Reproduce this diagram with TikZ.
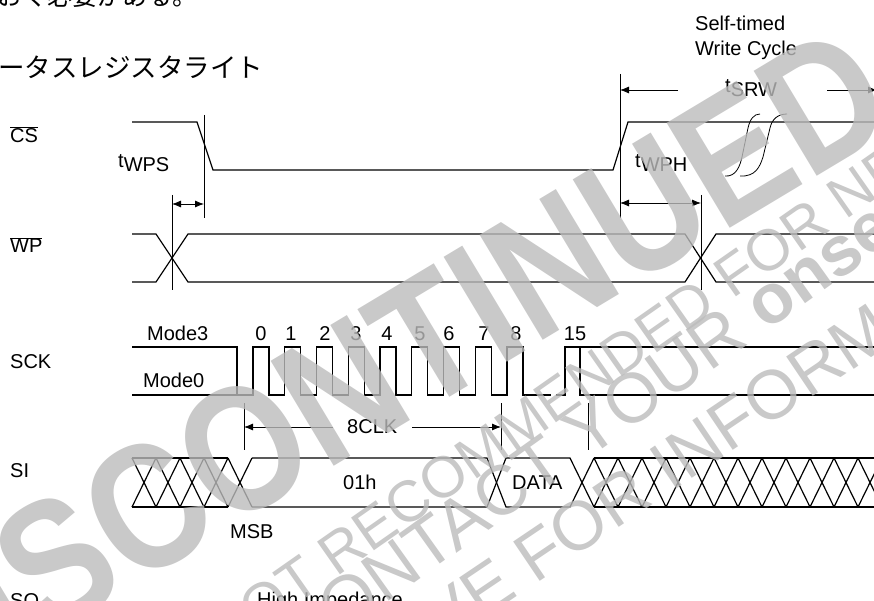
\documentclass[tikz,border=0pt]{standalone}
\usepackage{fontspec}
\setmainfont{Liberation Sans}
\newfontfamily\jpfont{Noto Sans CJK JP}
\usetikzlibrary{arrows.meta}
\newcommand{\tsig}[1]{t\raisebox{-4pt}{#1}}
\definecolor{wm}{RGB}{187,187,187}
\begin{document}
\begin{tikzpicture}[x=1pt,y=-1pt,
  sig/.style={line width=1.2pt, line join=miter, line cap=butt},
  markline/.style={line width=0.8pt},
  dimline/.style={line width=0.8pt},
  tip/.style={-{Latex[length=9pt,width=7pt]}},
  tips/.style={{Latex[length=9pt,width=7pt]}-{Latex[length=9pt,width=7pt]}},
  lbl/.style={font=\fontsize{20}{24}\selectfont, inner sep=0pt},
  jp/.style={inner sep=0pt, anchor=base west},
  wmk/.style={text=wm, text opacity=0.8, inner sep=0pt},
]
\useasboundingbox (0,0) rectangle (874,601);
\clip (0,0) rectangle (874,601);

% Japanese texts
\node[jp, font=\jpfont\fontsize{25}{25}\selectfont] (top) at (-3,6) {おく必要がある。};
\node[jp, font=\jpfont\fontsize{26.5}{26.5}\selectfont] (head) at (-2,78) {ータスレジスタライト};

% signal names
\node[lbl, anchor=base west] (cs) at (10,143) {$\overline{\mbox{CS}}$};
\node[lbl, anchor=base west] (wp) at (10,253) {$\overline{\mbox{WP}}$};
\node[lbl, anchor=base west] (sck) at (10,368) {SCK};
\node[lbl, anchor=base west] (si) at (10,477) {SI};
\node[lbl, anchor=base west] (so) at (10,607) {SO};

% CS
\draw[sig] (132,122) -- (197,122) -- (213,170) -- (613,170) -- (628,122) -- (874,122);

% WP
\draw[sig] (132,234) -- (156,234) -- (188,282) -- (685,282) -- (716,234) -- (874,234);
\draw[sig] (132,282) -- (156,282) -- (188,234) -- (685,234) -- (716,282) -- (874,282);

% SCK
\draw[sig] (132,347) -- (237,347) -- (237,395);
\draw[sig] (132,395) -- (253,395)
  \foreach \r in {253,284.75,316.5,348.25,380,411.75,443.5,475.25,507} {
    -- (\r,395) -- (\r,347) -- (\r+16,347) -- (\r+16,395)
  } -- (551,395);
\draw[sig] (556,395) -- (565,395) -- (565,347) -- (580,347) -- (580,395) -- (874,395);
\draw[sig] (580,347) -- (874,347);

% SCK labels
\node[lbl, anchor=base west] (m3) at (147,340) {Mode3};
\node[lbl, anchor=base west] (m0) at (143,387) {Mode0};
\foreach \n/\x in {0/261,1/291,2/325,3/356,4/387,5/420,6/449,7/484,8/516,15/575} {
  \node[lbl, anchor=base] (n\n) at (\x,340) {\n};
}

% SI
\draw[sig] (132,458) -- (228,458);
\draw[sig] (132,507) -- (228,507);
\foreach \x in {132,156,180,204,228} {
  \draw[sig] (\x,458) -- (\x+24,507);
  \draw[sig] (\x,507) -- (\x+24,458);
}
\draw[sig] (252,458) -- (487,458) -- (506,507) -- (570,507) -- (594,458);
\draw[sig] (252,507) -- (487,507) -- (506,458) -- (570,458) -- (594,507);
\draw[sig] (594,458) -- (874,458);
\draw[sig] (594,507) -- (874,507);
\foreach \x in {594,618,...,858} {
  \draw[sig] (\x,458) -- (\x+24,507);
  \draw[sig] (\x,507) -- (\x+24,458);
}
\node[lbl, anchor=base west] (d01) at (343,489) {01h};
\node[lbl, anchor=base west] (ddata) at (512,489) {DATA};
\node[lbl, anchor=base west] (msb) at (230,538) {MSB};
\node[lbl, anchor=base west] (hiz) at (257,606) {High Impedance};

% marker lines
\coordinate (v1a) at (204,115); \coordinate (v1b) at (204,218);
\coordinate (v2a) at (620,74);  \coordinate (v2b) at (620,218);
\coordinate (v3a) at (172,195); \coordinate (v3b) at (172,290);
\coordinate (v4a) at (701,195); \coordinate (v4b) at (701,290);
\coordinate (v5a) at (244,403); \coordinate (v5b) at (244,450);
\coordinate (v6a) at (501,403); \coordinate (v6b) at (501,450);
\coordinate (v7a) at (588,403); \coordinate (v7b) at (588,450);
\foreach \v in {1,...,7} { \draw[markline] (v\v a) -- (v\v b); }

% tWPS
\draw[dimline, tips] (172,204) -- (204,204);
\node[lbl, anchor=base west] (twps) at (118,168) {\tsig{WPS}};
% tWPH
\draw[dimline, tips] (620,203) -- (701,203);
\node[lbl, anchor=base west] (twph) at (635,168) {\tsig{WPH}};
% 8CLK
\node[lbl, anchor=base west] (clk) at (347,433) {8CLK};
\draw[dimline, tip] (333,427) -- (244,427);
\draw[dimline, tip] (412,427) -- (501,427);
% tSRW
\node[lbl, anchor=base west] (tsrw) at (725,93) {\tsig{SRW}};
\draw[dimline, tip] (678,90) -- (620,90);
\draw[dimline, tip] (827,90) -- (877,90);
\node[lbl, anchor=base west] (st1) at (695,31) {Self-timed};
\node[lbl, anchor=base west] (st2) at (695,56) {Write Cycle};

% self-timed write cycle curves
\draw[markline] (725,176) .. controls (736,177) and (740,166) .. (742,157) -- (748,128) .. controls (750,119) and (754,114) .. (760,114);
\draw[markline] (740,176) .. controls (756,177) and (760,166) .. (763,157) -- (770,128) .. controls (772,119) and (778,114) .. (787,114);

% watermark
\node[wmk, font=\bfseries\fontsize{178}{178}\selectfont, rotate=31, xscale=0.85] (wm1) at (377,369) {DISCONTINUED};
\node[wmk, font=\fontsize{58}{58}\selectfont, rotate=35] (wm2) at (676,315) {NOT RECOMMENDED FOR NEW DESIGN};
\node[wmk, font=\fontsize{70}{70}\selectfont, rotate=35.5] (wm3) at (618,407) {CONTACT YOUR \textbf{onsemi}};
\node[wmk, font=\fontsize{69}{69}\selectfont, rotate=34] (wm4) at (527,561) {REPRESENTATIVE FOR INFORMATION};

\end{tikzpicture}
\end{document}
